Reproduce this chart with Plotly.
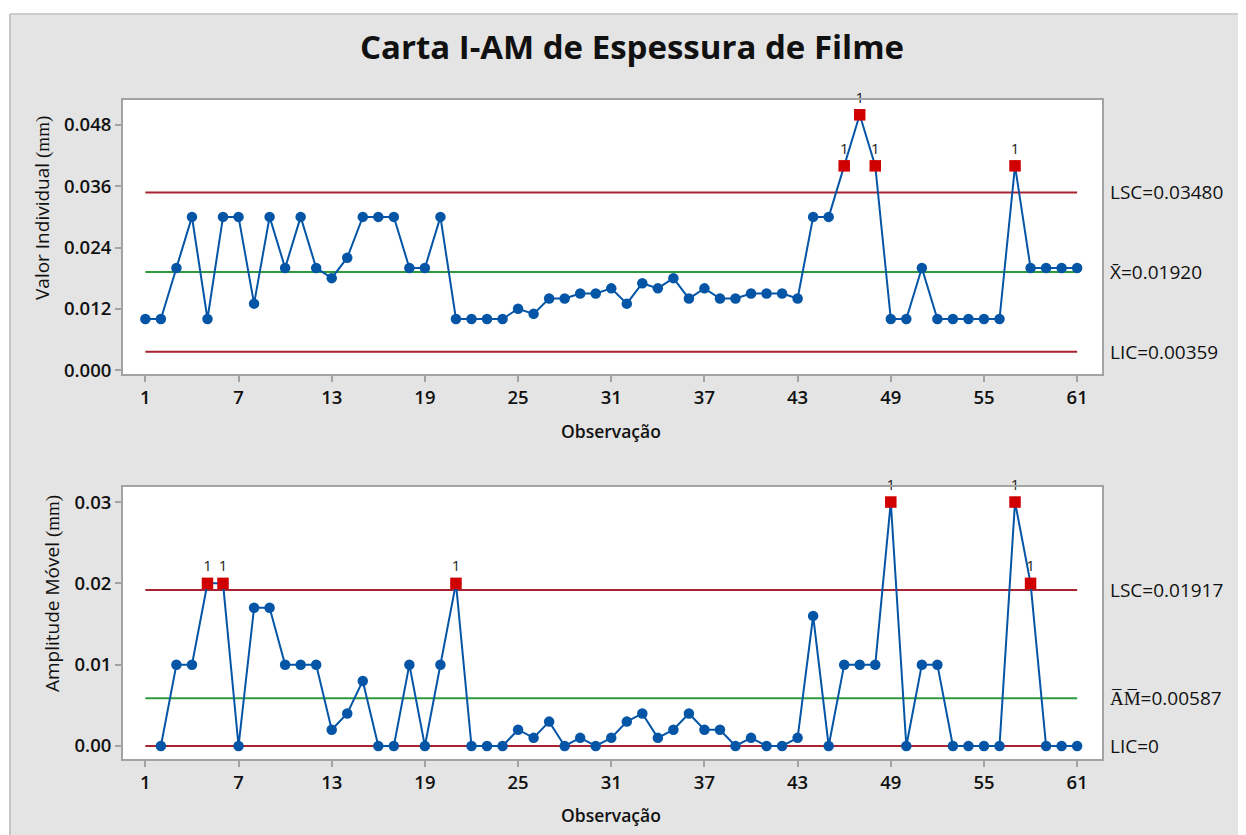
import plotly.graph_objects as go

# ---------------- data ----------------
observacoes = list(range(1, 62))

valor_individual = [
    0.010, 0.010, 0.020, 0.030, 0.010, 0.030, 0.030, 0.013, 0.030, 0.020,
    0.030, 0.020, 0.018, 0.022, 0.030, 0.030, 0.030, 0.020, 0.020, 0.030,
    0.010, 0.010, 0.010, 0.010, 0.012, 0.011, 0.014, 0.014, 0.015, 0.015,
    0.016, 0.013, 0.017, 0.016, 0.018, 0.014, 0.016, 0.014, 0.014, 0.015,
    0.015, 0.015, 0.014, 0.030, 0.030, 0.040, 0.050, 0.040, 0.010, 0.010,
    0.020, 0.010, 0.010, 0.010, 0.010, 0.010, 0.040, 0.020, 0.020, 0.020,
    0.020,
]

amplitude_movel = [
    None, 0.000, 0.010, 0.010, 0.020, 0.020, 0.000, 0.017, 0.017, 0.010,
    0.010, 0.010, 0.002, 0.004, 0.008, 0.000, 0.000, 0.010, 0.000, 0.010,
    0.020, 0.000, 0.000, 0.000, 0.002, 0.001, 0.003, 0.000, 0.001, 0.000,
    0.001, 0.003, 0.004, 0.001, 0.002, 0.004, 0.002, 0.002, 0.000, 0.001,
    0.000, 0.000, 0.001, 0.016, 0.000, 0.010, 0.010, 0.010, 0.030, 0.000,
    0.010, 0.010, 0.000, 0.000, 0.000, 0.000, 0.030, 0.020, 0.000, 0.000,
    0.000,
]

i_lsc, i_media, i_lic = 0.03480, 0.01920, 0.00359
am_lsc, am_media, am_lic = 0.01917, 0.00587, 0.0

x_ticks = [1, 7, 13, 19, 25, 31, 37, 43, 49, 55, 61]
i_ticks = [0.000, 0.012, 0.024, 0.036, 0.048]
am_ticks = [0.00, 0.01, 0.02, 0.03]

# ---------------- styling ----------------
BLUE = "#0455a6"
RED_PT = "#d10000"
RED_LINE = "#a82230"
GREEN = "#2e9a3c"
FONT = "Open Sans"
GRAY_BG = "#e4e4e4"
FRAME = "#a3a3a3"

# the page body adds an 8px margin; all pixel positions below are page pixels
OX, OY = 8, 8
W, H = 1246 - OX, 835 - OY
PL, PR, PT, PB = 123, 1102, 100, 759          # plot area in page pixels
ML, MT = PL - OX, PT - OY
MR, MB = W - (PR - OX), H - (PB - OY)
PW, PH = PR - PL, PB - PT


def px_x(px):
    return (px - PL) / PW


def px_y(py):
    return (PB - py) / PH


fig = go.Figure()


def add_chart(xs, ys, lsc, media, lic, xa, ya):
    xs_valid = [x for x, y in zip(xs, ys) if y is not None]
    ys_valid = [y for y in ys if y is not None]
    first, last = xs[0], xs[-1]
    for val, col in ((lsc, RED_LINE), (lic, RED_LINE), (media, GREEN)):
        fig.add_trace(go.Scatter(x=[first, last], y=[val, val], mode="lines",
                                 line=dict(color=col, width=2),
                                 xaxis=xa, yaxis=ya, hoverinfo="skip"))
    fig.add_trace(go.Scatter(x=xs_valid, y=ys_valid, mode="lines+markers",
                             line=dict(color=BLUE, width=2),
                             marker=dict(color=BLUE, size=10.5, symbol="circle"),
                             xaxis=xa, yaxis=ya))
    ox = [x for x, y in zip(xs_valid, ys_valid) if y > lsc or y < lic]
    oy = [y for y in ys_valid if y > lsc or y < lic]
    fig.add_trace(go.Scatter(x=ox, y=oy, mode="markers+text",
                             marker=dict(color=RED_PT, size=11.5, symbol="square"),
                             text=["1"] * len(ox), textposition="top center",
                             textfont=dict(family=FONT, size=15, color="#222222"),
                             cliponaxis=False,
                             xaxis=xa, yaxis=ya))


add_chart(observacoes, valor_individual, i_lsc, i_media, i_lic, "x", "y")
add_chart(observacoes, amplitude_movel, am_lsc, am_media, am_lic, "x2", "y2")

axis_common = dict(showline=True, linecolor=FRAME, linewidth=2, mirror=True,
                   ticks="outside", ticklen=6, tickwidth=2, tickcolor=FRAME,
                   showgrid=False, zeroline=False,
                   tickfont=dict(family=FONT, size=18.5, color="#111111", weight=600))

x_range = [-0.44, 62.6]
fig.update_layout(
    width=W, height=H,
    margin=dict(l=ML, r=MR, t=MT, b=MB),
    paper_bgcolor=GRAY_BG, plot_bgcolor="white",
    showlegend=False,
    xaxis=dict(axis_common, domain=[0, 1], anchor="y", range=x_range,
               tickvals=x_ticks),
    yaxis=dict(axis_common, domain=[px_y(374), 1], anchor="x",
               range=[-0.00078, 0.0529], tickvals=i_ticks, tickformat=".3f"),
    xaxis2=dict(axis_common, domain=[0, 1], anchor="y2", range=x_range,
                tickvals=x_ticks),
    yaxis2=dict(axis_common, domain=[0, px_y(487)], anchor="x2",
                range=[-0.0016, 0.03185], tickvals=am_ticks, tickformat=".2f"),
    title=dict(text="<b>Carta I-AM de Espessura de Filme</b>",
               font=dict(family=FONT, size=33, color="#111111"),
               x=(632 - OX) / W, xanchor="center", y=1 - (47 - OY) / H,
               yanchor="middle"),
)

# white strip around the gray panel and panel borders
fig.add_shape(type="rect", xref="paper", yref="paper",
              x0=px_x(0), x1=px_x(1246), y0=px_y(14), y1=px_y(0),
              fillcolor="white", line=dict(width=0), layer="below")
fig.add_shape(type="rect", xref="paper", yref="paper",
              x0=px_x(0), x1=px_x(10), y0=px_y(835), y1=px_y(0),
              fillcolor="white", line=dict(width=0), layer="below")
fig.add_shape(type="line", xref="paper", yref="paper",
              x0=px_x(10), x1=px_x(1246), y0=px_y(14), y1=px_y(14),
              line=dict(color="#cdcdcd", width=2))
fig.add_shape(type="line", xref="paper", yref="paper",
              x0=px_x(10), x1=px_x(10), y0=px_y(14), y1=px_y(835),
              line=dict(color="#c4c4c4", width=2))

# axis titles
obs_font = dict(family=FONT, size=17.5, color="#111111", weight=600)
fig.add_annotation(text="Observação", xref="paper", yref="paper",
                   x=px_x(611), y=px_y(431), xanchor="center", yanchor="middle",
                   showarrow=False, font=obs_font)
fig.add_annotation(text="Observação", xref="paper", yref="paper",
                   x=px_x(611), y=px_y(815), xanchor="center", yanchor="middle",
                   showarrow=False, font=obs_font)
ytitle_font = dict(family=FONT, size=19, color="#111111")
SERIF = "font-family:'Liberation Serif', 'DejaVu Serif', serif"
fig.add_annotation(text=f"Valor Individual <span style=\"{SERIF}\">(mm)</span>",
                   xref="paper", yref="paper", x=px_x(42), y=px_y(208),
                   xanchor="center", yanchor="middle", textangle=-90,
                   showarrow=False, font=ytitle_font)
fig.add_annotation(text=f"Amplitude Móvel <span style=\"{SERIF}\">(mm)</span>",
                   xref="paper", yref="paper", x=px_x(52), y=px_y(594),
                   xanchor="center", yanchor="middle", textangle=-90,
                   showarrow=False, font=ytitle_font)

# control limit labels
lbl_font = dict(family=FONT, size=19, color="#111111")
for txt, val, yref in (
    ("LSC=0.03480", i_lsc, "y"),
    ("X\u0304=0.01920", i_media, "y"),
    ("LIC=0.00359", i_lic, "y"),
    ("LSC=0.01917", am_lsc, "y2"),
    ("A\u0305M\u0305=0.00587", am_media, "y2"),
    ("LIC=0", am_lic, "y2"),
):
    fig.add_annotation(text=txt, xref="paper", yref=yref, x=px_x(1108), y=val,
                       xanchor="left", yanchor="middle", showarrow=False,
                       font=lbl_font)

fig.write_html("out.html")
